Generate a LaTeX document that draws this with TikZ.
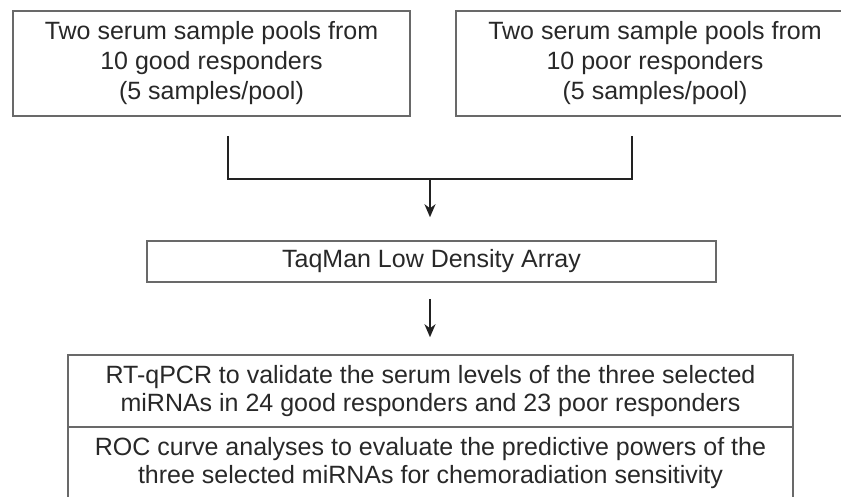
\documentclass[tikz,border=0pt]{standalone}
\usepackage{fontspec}
\setmainfont{Liberation Sans}
\usetikzlibrary{arrows.meta}
\definecolor{boxgray}{RGB}{105,105,105}
\definecolor{linedark}{RGB}{34,34,34}
\definecolor{txt}{RGB}{40,40,40}
\begin{document}
\begin{tikzpicture}[x=1pt,y=-1pt,
  box/.style={draw=boxgray,line width=1.5pt,inner sep=0pt,align=center,text=txt,font=\fontsize{25}{30}\selectfont},
  link/.style={draw=linedark,line width=1.7pt},
  arr/.style={link,-{Stealth[length=13pt,width=11pt,inset=4pt]}}]
\useasboundingbox (0,0) rectangle (841,497);
\node[box,minimum width=397pt,minimum height=105pt] (B1) at (211.5,63.5) {Two serum sample pools from\\10 good responders\\(5 samples/pool)};
\node[box,minimum width=398pt,minimum height=105pt] (B2) at (655,63.5) {Two serum sample pools from\\10 poor responders\\(5 samples/pool)};
\node[box,minimum width=569pt,minimum height=41pt] (B3) at (431.5,261.5) {TaqMan Low Density Array};
\node[box,minimum width=725pt,minimum height=72pt,font=\fontsize{25}{28}\selectfont] (B4) at (430.5,391) {RT-qPCR to validate the serum levels of the three selected\\miRNAs in 24 good responders and 23 poor responders};
\node[box,minimum width=725pt,minimum height=72pt,font=\fontsize{25}{28}\selectfont] (B5) at (430.5,463) {ROC curve analyses to evaluate the predictive powers of the\\three selected miRNAs for chemoradiation sensitivity};
% bracket joining the two pools
\coordinate (L) at (228,136);
\coordinate (R) at (632,136);
\coordinate (J) at (430,179);
\draw[link] (L) |- (J) -| (R);
\draw[arr,shorten >=23pt] (J) -- (J |- B3.north);
\draw[arr,shorten <=16pt,shorten >=17pt] (B3.south -| J) -- (J |- B4.north);
\end{tikzpicture}
\end{document}
